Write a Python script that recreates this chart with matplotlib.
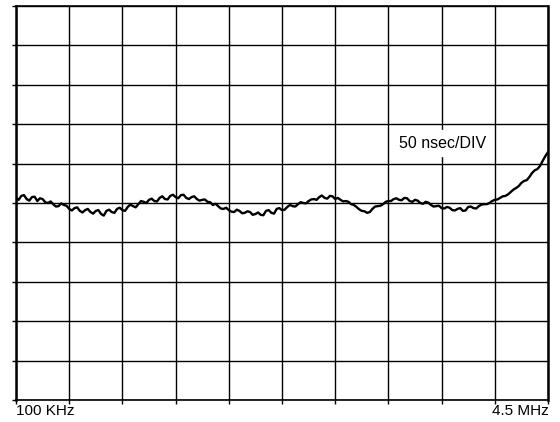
import matplotlib.pyplot as plt
import numpy as np

plt.rcParams['font.family'] = ['Liberation Sans', 'DejaVu Sans']

# trace, in divisions (10 x 10 graticule, 0 on the centre line), step 0.05 div
x_div = np.arange(201) * 0.05
y_div = [0.13, 0.08, 0.18, 0.20, 0.10, 0.06, 0.15, 0.16, 0.05, 0.12,
         0.10, 0.02, 0.00, 0.04, -0.03, -0.09, -0.08, -0.01, -0.05, -0.07,
         -0.15, -0.19, -0.13, -0.11, -0.20, -0.24, -0.18, -0.15, -0.23, -0.27,
         -0.20, -0.18, -0.28, -0.32, -0.20, -0.17, -0.23, -0.25, -0.15, -0.12,
         -0.18, -0.20, -0.10, -0.04, -0.08, -0.11, -0.03, 0.05, 0.03, 0.00,
         0.08, 0.11, 0.05, 0.04, 0.13, 0.17, 0.10, 0.09, 0.18, 0.21,
         0.15, 0.12, 0.20, 0.21, 0.13, 0.10, 0.15, 0.17, 0.10, 0.06,
         0.08, 0.09, 0.03, 0.02, -0.05, -0.02, -0.08, -0.14, -0.15, -0.12,
         -0.18, -0.22, -0.23, -0.17, -0.20, -0.26, -0.25, -0.21, -0.23, -0.30,
         -0.28, -0.24, -0.30, -0.31, -0.20, -0.18, -0.25, -0.27, -0.15, -0.13,
         -0.18, -0.17, -0.10, -0.05, -0.08, -0.09, -0.03, 0.02, 0.00, -0.01,
         0.05, 0.09, 0.10, 0.08, 0.15, 0.19, 0.13, 0.11, 0.18, 0.17,
         0.10, 0.13, 0.08, 0.04, 0.05, 0.03, -0.03, -0.05, -0.10, -0.16,
         -0.20, -0.21, -0.25, -0.23, -0.15, -0.09, -0.08, -0.07, -0.03, 0.03,
         0.05, 0.05, 0.10, 0.12, 0.08, 0.07, 0.13, 0.12, 0.05, 0.03,
         0.08, 0.06, 0.00, -0.02, 0.03, 0.01, -0.05, -0.09, -0.08, -0.07,
         -0.13, -0.14, -0.10, -0.12, -0.18, -0.19, -0.15, -0.13, -0.20, -0.19,
         -0.10, -0.09, -0.13, -0.14, -0.08, -0.04, -0.03, -0.03, 0.00, 0.05,
         0.08, 0.09, 0.13, 0.17, 0.18, 0.22, 0.28, 0.34, 0.38, 0.43,
         0.51, 0.56, 0.58, 0.66, 0.76, 0.83, 0.86, 0.94, 1.07, 1.19,
         1.29]

label_start = "100 KHz"
label_stop = "4.5 MHz"
label_scale = "50 nsec/DIV"

fig = plt.figure(figsize=(5.6, 4.22), dpi=100)
ax = fig.add_axes([16 / 560, 1 - 400 / 422, 532 / 560, 394 / 422])

ax.plot(x_div, y_div, color='black', linewidth=1.7, zorder=3)

ax.set_xlim(0, 10)
ax.set_ylim(-5, 5)
ax.set_xticks(range(11))
ax.set_yticks(range(-5, 6))
ax.set_xticklabels([])
ax.set_yticklabels([])
ax.tick_params(direction='out', length=3, width=1, color='black')
ax.grid(True, color='black', linewidth=1)
for side in ['left', 'right']:
    ax.spines[side].set_linewidth(1.8)
for side in ['top', 'bottom']:
    ax.spines[side].set_linewidth(1.2)

ax.text(7.2, 1.52, label_scale, fontsize=11.5, va='center', ha='left',
        backgroundcolor='white', zorder=4)
fig.text(16 / 560, 1 - 411 / 422, label_start, fontsize=11, va='center', ha='left')
fig.text(549 / 560, 1 - 411 / 422, label_stop, fontsize=11, va='center', ha='right')

plt.savefig("out.png", dpi=100)
